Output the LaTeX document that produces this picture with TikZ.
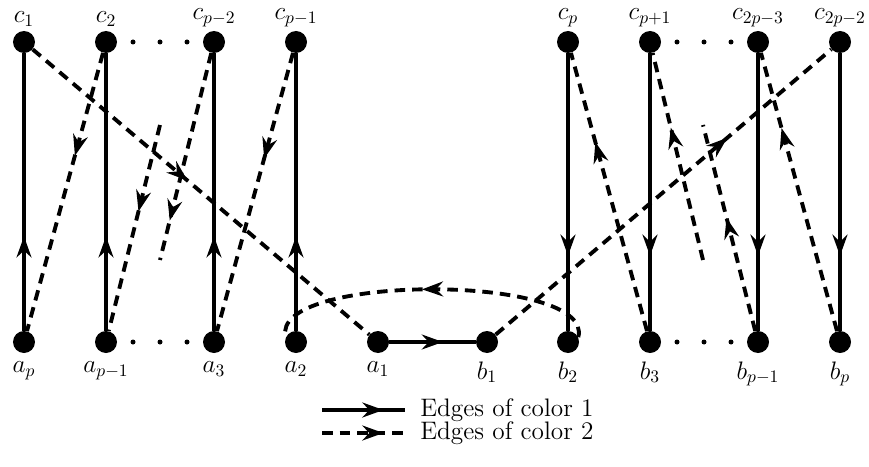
\documentclass[tikz,border=0pt]{standalone}
\usepackage{tikz}
\usetikzlibrary{arrows.meta,positioning,calc,decorations.markings}
\tikzset{
  vertex/.style={circle,fill=black,inner sep=0pt,minimum size=0.44cm},
  lowlbl/.style={label={[label distance=4.4pt]below:#1}},
  toplbl/.style={label={[label distance=2.2pt]above:#1}},
  colone/.style={line width=2.2pt},
  coltwo/.style={line width=2.2pt,dash pattern=on 6pt off 4pt},
  midarrow/.style={postaction={decorate},decoration={markings,mark=at position #1 with {\arrow{Stealth[length=12pt,width=8.5pt,inset=4pt]}}}},
  every label/.style={inner sep=0pt}
}
\begin{document}
\begin{tikzpicture}[font=\Large]
    \useasboundingbox (-0.48,-2.48) rectangle (16.9,6.84);
    \node[vertex,lowlbl=$a_p$] (ap) at (0,0) {};
    \node[vertex,lowlbl=$a_{p-1}$] (apm1) at (1.64,0) {};
    \node[vertex,lowlbl=$a_3$] (a3) at (3.8,0) {};
    \node[vertex,lowlbl=$a_2$] (a2) at (5.44,0) {};
    \node[vertex,lowlbl=$a_1$] (a1) at (7.08,0) {};
    \node[vertex,lowlbl=$b_1$] (b1) at (9.26,0) {};
    \node[vertex,lowlbl=$b_2$] (b2) at (10.88,0) {};
    \node[vertex,lowlbl=$b_3$] (b3) at (12.52,0) {};
    \node[vertex,lowlbl=$b_{p-1}$] (bpm1) at (14.68,0) {};
    \node[vertex,lowlbl=$b_p$] (bp) at (16.32,0) {};
    \node[vertex,toplbl=$c_1$] (c1) at (0,6) {};
    \node[vertex,toplbl=$c_2$] (c2) at (1.64,6) {};
    \node[vertex,toplbl=$c_{p-2}$] (cpm2) at (3.8,6) {};
    \node[vertex,toplbl=$c_{p-1}$] (cpm1) at (5.44,6) {};
    \node[vertex,toplbl=$c_p$] (cp) at (10.88,6) {};
    \node[vertex,toplbl=$c_{p+1}$] (cpp1) at (12.52,6) {};
    \node[vertex,toplbl=$c_{2p-3}$] (c2pm3) at (14.68,6) {};
    \node[vertex,toplbl=$c_{2p-2}$] (c2pm2) at (16.32,6) {};
    \coordinate (fa) at (2.72,4.34);
    \coordinate (fb) at (2.72,1.64);
    \coordinate (fc) at (13.58,1.64);
    \coordinate (fd) at (13.58,4.34);
    \foreach \u/\v in {c2/cpm2,apm1/a3,cpp1/c2pm3,b3/bpm1}
      \foreach \t in {0.25,0.5,0.75}
        \fill ($(\u)!\t!(\v)$) circle (0.05);
    \draw[colone,midarrow=0.34] (ap) -- (c1); \draw[colone,midarrow=0.34] (apm1) -- (c2);
    \draw[colone,midarrow=0.34] (a3) -- (cpm2); \draw[colone,midarrow=0.34] (a2) -- (cpm1);
    \draw[colone,midarrow=0.73] (cp) -- (b2); \draw[colone,midarrow=0.73] (cpp1) -- (b3);
    \draw[colone,midarrow=0.73] (c2pm3) -- (bpm1); \draw[colone,midarrow=0.73] (c2pm2) -- (bp);
    \draw[colone,midarrow=0.62] (a1) -- (b1);
    \draw[coltwo,midarrow=0.46] (c1) -- (a1);
    \draw[coltwo,midarrow=0.37] (c2) -- (ap);
    \draw[coltwo,midarrow=0.42] (fa) -- (apm1);
    \draw[coltwo,midarrow=0.81] (cpm2) -- (fb);
    \draw[coltwo,midarrow=0.38] (cpm1) -- (a3);
    \draw[coltwo,midarrow=0.68] (b3) -- (cp);
    \draw[coltwo,midarrow=0.64] (fc) -- (cpp1);
    \draw[coltwo,midarrow=0.73] (bp) -- (c2pm3);
    \draw[coltwo,midarrow=0.55] (bpm1) -- (fd);
    \draw[coltwo,midarrow=0.69] (b1) -- (c2pm2);
    \draw[coltwo,midarrow=0.53] (b2.25) to[out=75,in=105,looseness=0.58] (a2.155);
    \coordinate (ls1) at (5.96,-1.36); \coordinate (le1) at (7.62,-1.36);
    \coordinate (ls2) at (5.96,-1.82); \coordinate (le2) at (7.62,-1.82);
    \draw[colone,midarrow=0.74] (ls1) -- (le1);
    \draw[coltwo,midarrow=0.74] (ls2) -- (le2);
    \node[right=0.3cm of le1,inner sep=0pt] (leg1) {Edges of color 1};
    \node[right=0.3cm of le2,inner sep=0pt] (leg2) {Edges of color 2};
  \end{tikzpicture}
\end{document}
